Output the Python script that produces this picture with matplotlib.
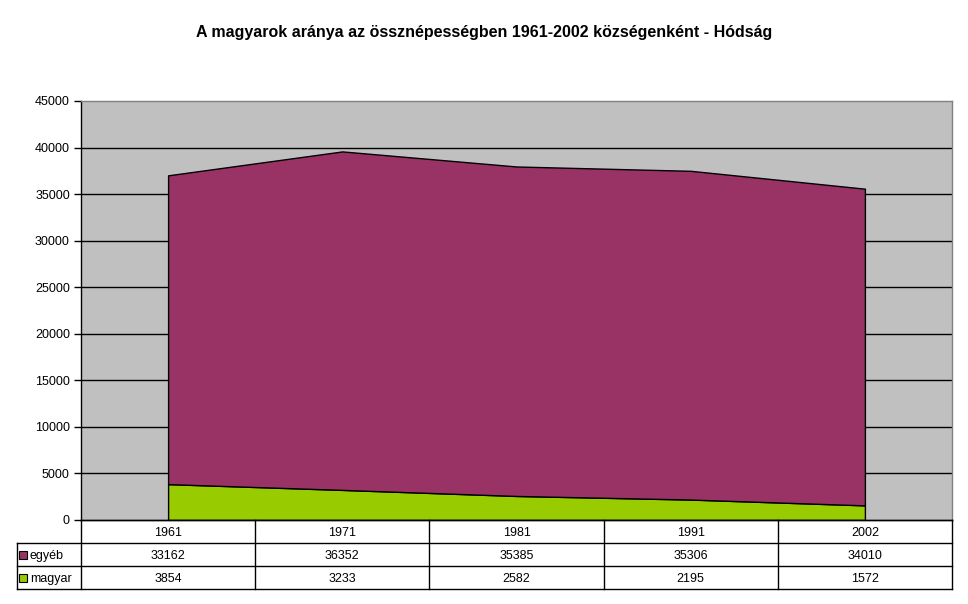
import matplotlib
matplotlib.use("Agg")
import matplotlib.pyplot as plt
from matplotlib.lines import Line2D
from matplotlib.patches import Rectangle
import numpy as np

years = ["1961", "1971", "1981", "1991", "2002"]
egyeb = [33162, 36352, 35385, 35306, 34010]
magyar = [3854, 3233, 2582, 2195, 1572]
series_names = ["egyéb", "magyar"]
title = "A magyarok aránya az össznépességben 1961-2002 községenként - Hódság"
yticks = list(range(0, 45001, 5000))

C_EGY = "#993366"
C_MAG = "#99CC00"
C_BG = "#C0C0C0"

plt.rcParams['font.family'] = ['Liberation Sans', 'DejaVu Sans']

W, H = 968, 604
fig = plt.figure(figsize=(W / 100, H / 100), dpi=100)

def fx(x):
    return x / W

def fy(y):
    return 1 - y / H

L, R, T, B = 81, 952, 101, 520
ax = fig.add_axes([fx(L), fy(B), fx(R) - fx(L), fy(T) - fy(B)])
ax.set_facecolor(C_BG)
x = np.arange(len(years)) + 0.5
ax.stackplot(x, magyar, egyeb, colors=[C_MAG, C_EGY], edgecolor="black", linewidth=1.0)
ax.set_xlim(0, len(years))
ax.set_ylim(0, 45000)
ax.set_yticks(yticks)
ax.set_yticklabels([str(v) for v in yticks], fontsize=9)
for v in yticks[1:-1]:
    ax.axhline(v, color="black", lw=1.0, zorder=0.5)
ax.set_xticks([])
ax.tick_params(axis="y", length=5, width=1, color="black", pad=3)
for s in ["top", "right"]:
    ax.spines[s].set_color("#808080")
ax.spines["left"].set_color("black")
ax.spines["bottom"].set_color("black")
for s in ax.spines.values():
    s.set_linewidth(1.0)

fig.text(0.5, fy(32), title, ha="center", va="center", fontsize=11.5, fontweight="bold")

# data table below
col_w = (R - L) / len(years)
rows = [B, B + 23, B + 46, B + 69]
LEFT_COL = 17

def hline(x0, x1, y):
    fig.add_artist(Line2D([fx(x0), fx(x1)], [fy(y), fy(y)], color="black", lw=1.0, transform=fig.transFigure))

def vline(x, y0, y1):
    fig.add_artist(Line2D([fx(x), fx(x)], [fy(y0), fy(y1)], color="black", lw=1.0, transform=fig.transFigure))

hline(L, R, rows[0])
for y in rows[1:]:
    hline(LEFT_COL, R, y)
for i in range(len(years) + 1):
    vline(L + i * col_w, rows[0], rows[3])
vline(LEFT_COL, rows[1], rows[3])

for i, yr in enumerate(years):
    cx = L + (i + 0.5) * col_w
    fig.text(fx(cx), fy((rows[0] + rows[1]) / 2), yr, ha="center", va="center_baseline", fontsize=9)
    fig.text(fx(cx), fy((rows[1] + rows[2]) / 2), str(egyeb[i]), ha="center", va="center_baseline", fontsize=9)
    fig.text(fx(cx), fy((rows[2] + rows[3]) / 2), str(magyar[i]), ha="center", va="center_baseline", fontsize=9)

for name, col, r in [(series_names[0], C_EGY, 1), (series_names[1], C_MAG, 2)]:
    cy = (rows[r] + rows[r + 1]) / 2
    fig.add_artist(Rectangle((fx(19), fy(cy + 4)), fx(8), fy(0) - fy(8), facecolor=col,
                             edgecolor="black", lw=0.8, transform=fig.transFigure))
    fig.text(fx(30), fy(cy), name, ha="left", va="center_baseline", fontsize=9)

fig.savefig("out.png", dpi=100)
